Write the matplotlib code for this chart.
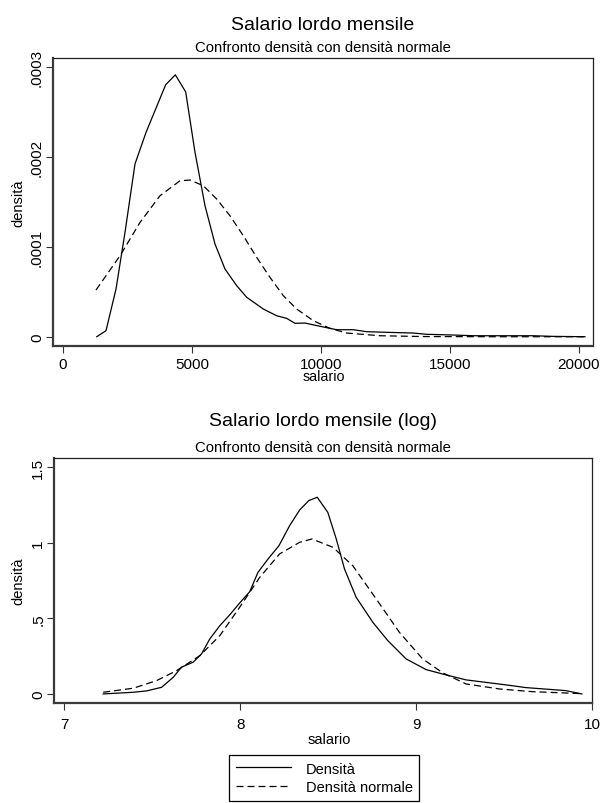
import numpy as np
import matplotlib.pyplot as plt

plt.rcParams['font.family'] = ['Liberation Sans', 'DejaVu Sans']

# salario lordo mensile: stima densita' (kernel) e densita' normale
sal_x = [1307, 1668, 2056, 2405, 2793, 3220, 3608, 3983, 4357, 4759, 5120, 5508,
         5896, 6284, 6738, 7126, 7770, 8289, 8677, 8999, 9387, 9969, 10617,
         11260, 11780, 12556, 13588, 14107, 15140, 15916, 18243, 19019, 20248]
sal_dens = [0.0, 0.0000067, 0.000053, 0.000116, 0.000192, 0.000227, 0.000254,
            0.000280, 0.000291, 0.000272, 0.000205, 0.0001456, 0.000103,
            0.0000752, 0.0000567, 0.0000438, 0.0000308, 0.0000233, 0.0000204,
            0.0000149, 0.0000152, 0.0000116, 0.0000078, 0.0000078, 0.0000056,
            0.0000049, 0.0000041, 0.0000027, 0.0000019, 0.0000011, 0.0000011,
            0.0000004, 0.0]
sal_norm_x = [1280, 2211, 2987, 3763, 4538, 4926, 5442, 5962, 6478, 6994, 7514,
              8030, 8546, 9065, 9709, 10357, 11005, 12296, 14000, 17000, 20248]
sal_norm = [0.0000519, 0.0000900, 0.000127, 0.0001567, 0.0001733, 0.0001741,
            0.0001678, 0.0001530, 0.0001344, 0.0001122, 0.0000881, 0.0000659,
            0.0000456, 0.0000308, 0.0000178, 0.0000093, 0.0000041, 0.0000011,
            0.0000002, 0.0, 0.0]

# log salario
log_x = [7.221, 7.392, 7.468, 7.553, 7.619, 7.666, 7.732, 7.780, 7.827, 7.884,
         7.940, 7.997, 8.054, 8.101, 8.158, 8.220, 8.281, 8.338, 8.390, 8.438,
         8.498, 8.546, 8.593, 8.659, 8.754, 8.839, 8.943, 9.057, 9.170, 9.284,
         9.511, 9.624, 9.851, 9.942]
log_dens = [0.0, 0.011, 0.020, 0.044, 0.110, 0.177, 0.210, 0.265, 0.364, 0.452,
            0.523, 0.602, 0.677, 0.805, 0.893, 0.981, 1.114, 1.218, 1.280, 1.302,
            1.202, 1.026, 0.827, 0.640, 0.474, 0.353, 0.232, 0.161, 0.126, 0.093,
            0.060, 0.042, 0.022, 0.0]
log_norm_x = [7.221, 7.392, 7.524, 7.638, 7.770, 7.884, 7.997, 8.111, 8.224,
              8.338, 8.408, 8.527, 8.640, 8.773, 8.905, 9.037, 9.151, 9.284,
              9.473, 9.662, 9.942]
log_norm = [0.011, 0.038, 0.088, 0.154, 0.253, 0.386, 0.574, 0.772, 0.927, 1.004,
            1.026, 0.971, 0.849, 0.629, 0.408, 0.232, 0.140, 0.066, 0.033, 0.015,
            0.002]

W, H = 602, 804
fig = plt.figure(figsize=(W / 100, H / 100), dpi=100)

DASH = (0, (5.6, 3.2))


def px_axes(l, t, r, b):
    return fig.add_axes([l / W, 1 - b / H, (r - l) / W, (b - t) / H])


def style(ax, xpad):
    for s in ['left', 'bottom']:
        ax.spines[s].set_linewidth(1.6)
        ax.spines[s].set_color('#3a3a3a')
    for s in ['top', 'right']:
        ax.spines[s].set_linewidth(0.9)
        ax.spines[s].set_color('#222222')
    ax.tick_params(direction='out', length=5, width=0.8, labelsize=11, color='#333333')
    ax.tick_params(axis='x', pad=xpad)
    ax.tick_params(axis='y', pad=1.5)
    for lab in ax.get_yticklabels():
        lab.set_rotation(90)
        lab.set_va('center')


def txt(x, y, s, size, **kw):
    fig.text(x / W, 1 - y / H, s, fontsize=size, ha='center', va='center', **kw)


# ---- pannello superiore
ax1 = px_axes(53, 59, 592.7, 347)
ax1.plot(sal_x, sal_dens, color='black', lw=0.9)
ax1.plot(sal_norm_x, sal_norm, color='black', lw=0.9, linestyle=DASH)
ax1.set_xlim(-388, 20547)
ax1.set_ylim(-0.0000103, 0.0003097)
ax1.set_xticks([0, 5000, 10000, 15000, 20000])
ax1.set_yticks([0, 0.0001, 0.0002, 0.0003])
ax1.set_yticklabels(['0', '.0001', '.0002', '.0003'])
style(ax1, 3)
txt(323, 25, 'Salario lordo mensile', 14)
txt(323, 48, 'Confronto densità con densità normale', 10.7)
txt(323.8, 377.5, 'salario', 10.3)
txt(18.3, 203, 'densità', 10.5, rotation=90)

# ---- pannello inferiore
ax2 = px_axes(54.3, 459.3, 592, 704)
l1, = ax2.plot(log_x, log_dens, color='black', lw=0.9)
l2, = ax2.plot(log_norm_x, log_norm, color='black', lw=0.9, linestyle=DASH)
ax2.set_xlim(6.943, 10.0)
ax2.set_ylim(-0.06, 1.56)
ax2.set_xticks([7, 8, 9, 10])
ax2.set_yticks([0, 0.5, 1, 1.5])
ax2.set_yticklabels(['0', '.5', '1', '1.5'])
style(ax2, 5)
txt(323, 421.7, 'Salario lordo mensile (log)', 14)
txt(323, 448.3, 'Confronto densità con densità normale', 10.7)
txt(329.7, 740.5, 'salario', 10.5)
txt(18.3, 581.7, 'densità', 10.5, rotation=90)

leg = fig.legend([l1, l2], ['Densità', 'Densità normale'], loc='upper left',
                 bbox_to_anchor=(229 / W, 1 - 756 / H), borderaxespad=0,
                 fontsize=10.5, handlelength=3.8, handletextpad=1.0,
                 labelspacing=0.3, fancybox=False, framealpha=1,
                 edgecolor='black', borderpad=0.45)
leg.get_frame().set_linewidth(0.9)

fig.savefig('out.png', dpi=100, facecolor='white')
